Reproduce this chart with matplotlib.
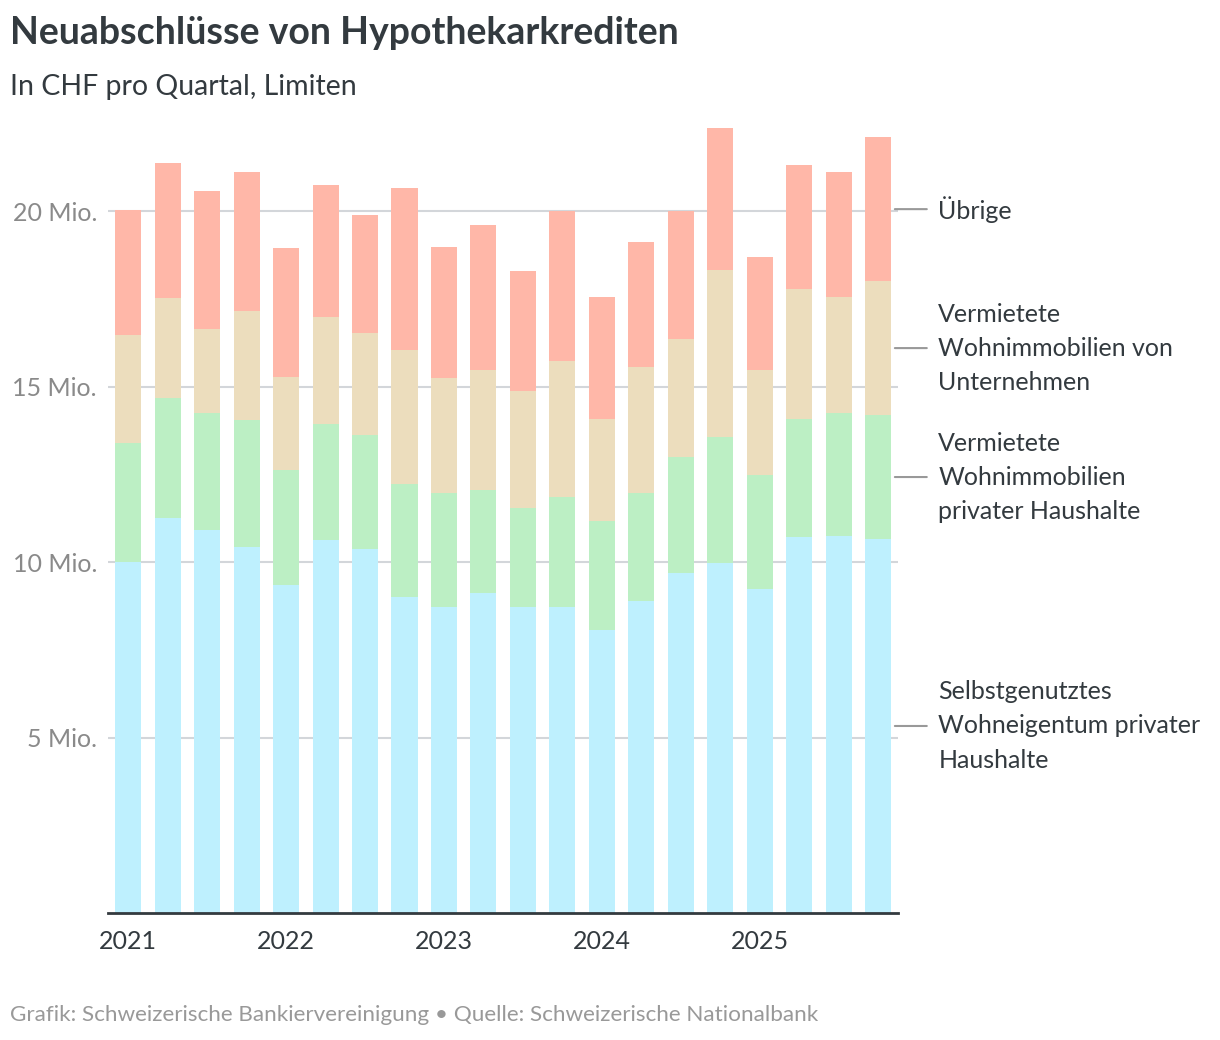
import matplotlib.pyplot as plt
import numpy as np

plt.rcParams["font.family"] = ["Lato", "DejaVu Sans"]

# Quartale 2021 Q1 bis 2025 Q4, Werte in Mio. CHF
quarters = [f"{y} Q{q}" for y in range(2021, 2026) for q in range(1, 5)]
selbstgenutzt = [10.00, 11.25, 10.91, 10.43, 9.34, 10.63, 10.37, 9.00, 8.72, 9.12,
                 8.72, 8.72, 8.06, 8.89, 9.69, 9.97, 9.23, 10.71, 10.74, 10.66]
vermietet_privat = [3.39, 3.42, 3.34, 3.62, 3.28, 3.30, 3.25, 3.22, 3.25, 2.93,
                    2.82, 3.13, 3.11, 3.08, 3.30, 3.59, 3.25, 3.36, 3.51, 3.53]
vermietet_unternehmen = [3.08, 2.85, 2.39, 3.10, 2.65, 3.05, 2.90, 3.82, 3.27, 3.42,
                         3.33, 3.88, 2.90, 3.59, 3.36, 4.76, 2.99, 3.71, 3.30, 3.82]
uebrige = [3.56, 3.85, 3.93, 3.96, 3.68, 3.76, 3.37, 4.62, 3.73, 4.13,
           3.42, 4.27, 3.48, 3.56, 3.65, 4.04, 3.22, 3.53, 3.56, 4.10]

series = [
    ("Selbstgenutztes\nWohneigentum privater\nHaushalte", selbstgenutzt, "#BEF0FE"),
    ("Vermietete\nWohnimmobilien\nprivater Haushalte", vermietet_privat, "#BCEFC4"),
    ("Vermietete\nWohnimmobilien von\nUnternehmen", vermietet_unternehmen, "#ECDDBD"),
    ("Übrige", uebrige, "#FFB7A8"),
]
years = ["2021", "2022", "2023", "2024", "2025"]
yticks = [5, 10, 15, 20]

fig = plt.figure(figsize=(12.2, 10.4), dpi=100)
ax = fig.add_axes([108 / 1220, 1 - 913 / 1040, 790 / 1220, 800 / 1040])

x = np.arange(len(quarters))
bottom = np.zeros(len(quarters))
label_pos = []
for name, vals, color in series:
    vals = np.array(vals)
    ax.bar(x, vals, bottom=bottom, width=0.66, color=color, zorder=2)
    label_pos.append((name, bottom[-1] + vals[-1] / 2))
    bottom = bottom + vals

ax.set_xlim(-0.51, 19.5)
ax.set_ylim(0, 22.8)
ax.set_yticks(yticks)
ax.set_yticklabels([f"{t} Mio." for t in yticks], fontsize=18, color="#8a8a8a")
ax.set_xticks(x[::4])
ax.set_xticklabels(years, fontsize=18, color="#333a3f")
ax.tick_params(axis="both", length=0)
ax.tick_params(axis="y", pad=8)
ax.tick_params(axis="x", pad=12)
ax.grid(axis="y", color="#d3d6da", linewidth=1.5, zorder=0)
for s in ["top", "right", "left"]:
    ax.spines[s].set_visible(False)
ax.spines["bottom"].set_color("#333a3f")
ax.spines["bottom"].set_linewidth(2)
ax.spines["bottom"].set_zorder(3)

# Beschriftungen rechts mit Verbindungslinien
for name, ypos in label_pos:
    ax.annotate("", xy=(19.35, ypos), xytext=(20.3, ypos),
                arrowprops=dict(arrowstyle="-", color="#999999", lw=1.5),
                annotation_clip=False)
    ax.text(20.52, ypos, name, fontsize=18, color="#333a3f", va="center",
            ha="left", linespacing=1.58, clip_on=False)

fig.text(10 / 1220, 1 - 33 / 1040, "Neuabschlüsse von Hypothekarkrediten",
         fontsize=27, fontweight="bold", color="#333a3f", va="center")
fig.text(10 / 1220, 1 - 87 / 1040, "In CHF pro Quartal, Limiten",
         fontsize=20.5, color="#333a3f", va="center")
fig.text(10 / 1220, 1 - 1015 / 1040,
         "Grafik: Schweizerische Bankiervereinigung • Quelle: Schweizerische Nationalbank",
         fontsize=16.2, color="#999999", va="center")

fig.savefig("out.png", dpi=100)
